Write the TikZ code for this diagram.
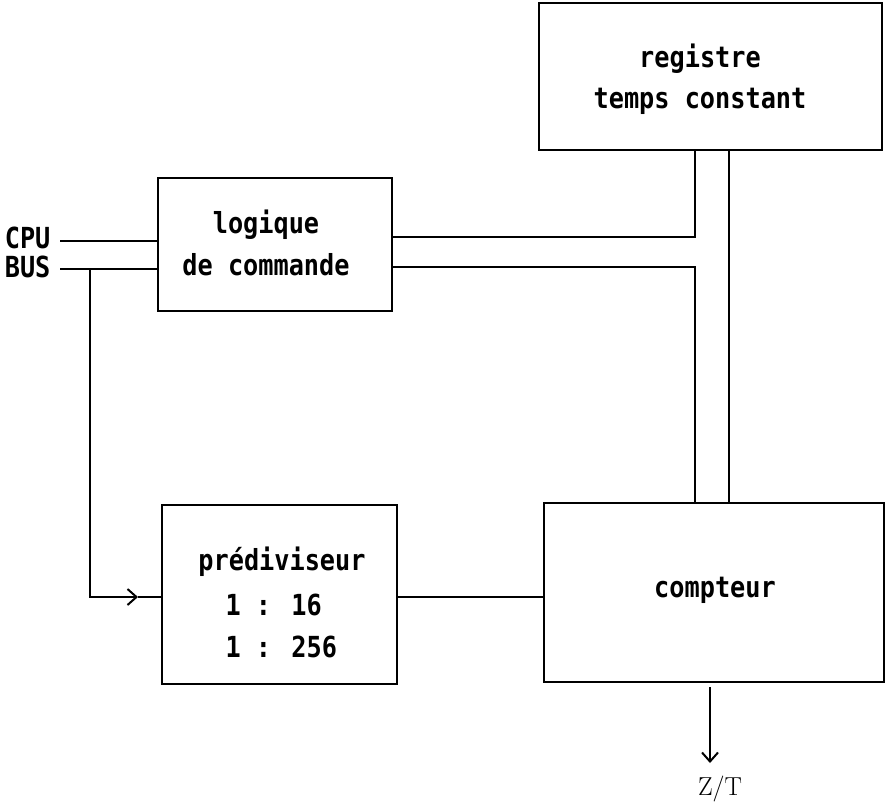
\documentclass[tikz,border=0pt]{standalone}
\usepackage{fontspec}
\newfontfamily\plotfont[FakeStretch=0.87]{DejaVu Sans Mono}
\usetikzlibrary{arrows.meta}
\begin{document}
\begin{tikzpicture}[x=1pt,y=-1pt,
  line width=1.2pt,
  blockbox/.style={draw, rectangle, inner sep=0pt},
  lbl/.style={inner sep=0pt, anchor=base, font=\plotfont\bfseries\fontsize{29}{34}\selectfont},
  lblw/.style={lbl, anchor=base west},
  lble/.style={lbl, anchor=base east},
  tip/.style={-{Straight Barb[length=9pt,width=16pt,line width=2pt]}}
]
\useasboundingbox (0,0) rectangle (886,806);

% blocks
\node[blockbox, minimum width=343pt, minimum height=147pt] (reg) at (710.5,76.5) {};
\node[blockbox, minimum width=234pt, minimum height=133pt] (log) at (275,244.5) {};
\node[blockbox, minimum width=235pt, minimum height=179pt] (pre) at (279.5,594.5) {};
\node[blockbox, minimum width=340pt, minimum height=179pt] (cpt) at (714,592.5) {};

% texts
\node[lbl] (reg1) at (700,67) {registre};
\node[lbl] (reg2) at (700,108) {temps constant};
\node[lbl] (log1) at (266,233) {logique};
\node[lbl] (log2) at (266,275) {de commande};
\node[lbl] (pre1) at (282,570) {prédiviseur};
\node[lblw] (pre2) at (225,615) {1 : 16};
\node[lblw] (pre3) at (225,657) {1 : 256};
\node[lbl] (cpt1) at (715,597) {compteur};
\node[lble] (cpu) at (51,248) {CPU};
\node[lble] (bus) at (51,277) {BUS};
\node[inner sep=0pt, anchor=base, font=\fontsize{26}{30}\selectfont] (zt) at (720,795) {Z/T};

% junction coordinates
\coordinate (cpuin) at (60,241);
\coordinate (busin) at (60,269);
\coordinate (busbr) at (90,269);
\coordinate (pretip) at (138,597);
\coordinate (j1) at (695,237);
\coordinate (j2) at (695,267);
\coordinate (j3) at (729,150);
\coordinate (ztop) at (710,687);
\coordinate (zbot) at (710,763);

% connectors
\draw (cpuin) -- (cpuin -| log.west);
\draw (busin) -- (busin -| log.west);
\draw[tip] (busbr) |- (pretip);
\draw (pretip) -- (pretip -| pre.west);
\draw (j1 -| log.east) -- (j1) -- (j1 |- reg.south);
\draw (j2 -| log.east) -- (j2) -- (j2 |- cpt.north);
\draw (j3 |- reg.south) -- (j3 |- cpt.north);
\draw (pre.east |- pretip) -- (cpt.west |- pretip);
\draw[tip] (ztop) -- (zbot);
\end{tikzpicture}
\end{document}
